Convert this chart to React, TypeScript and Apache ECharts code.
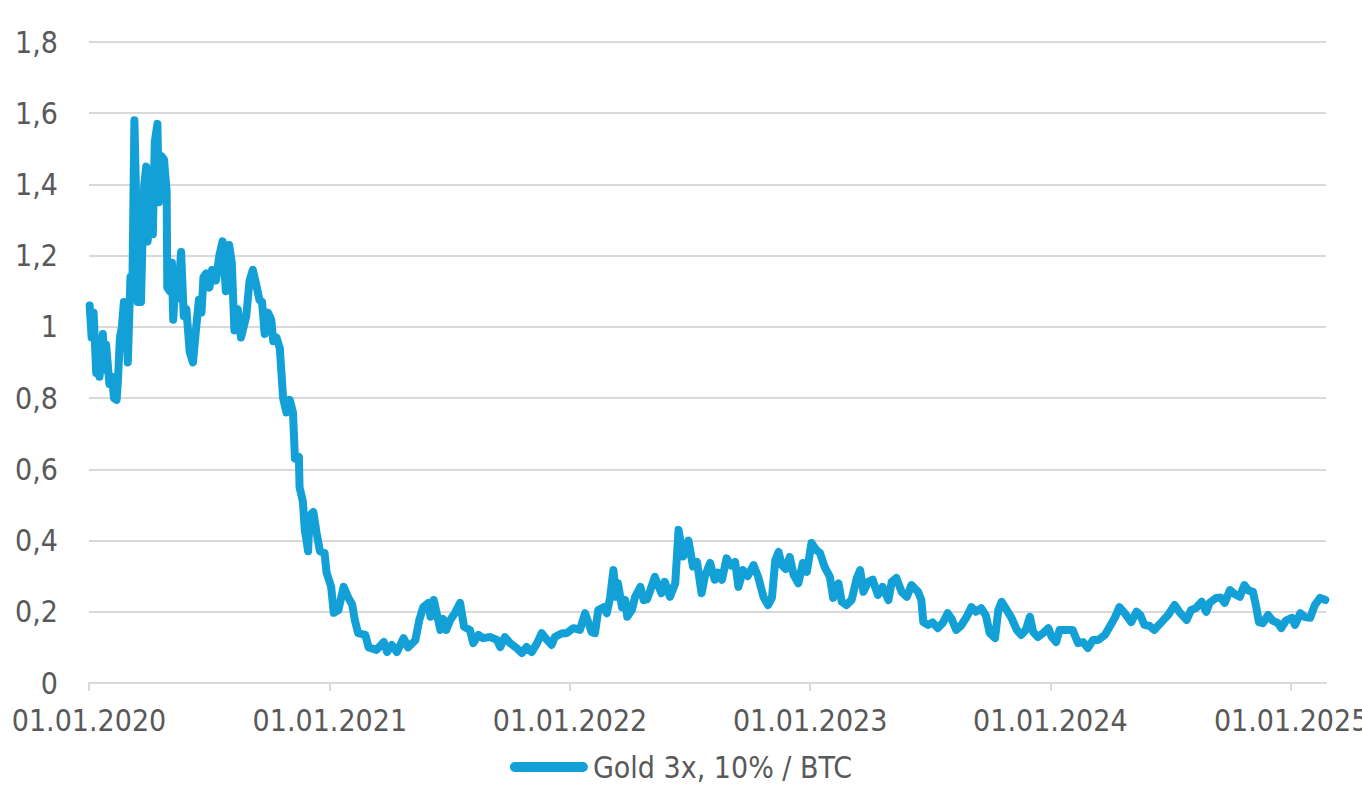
import React, { useEffect, useRef } from "react";
import * as echarts from "echarts";

const seriesName = "Gold 3x, 10% / BTC";

const dates: string[] = [
  "2020-01-02","2020-01-05","2020-01-08","2020-01-12","2020-01-15","2020-01-17","2020-01-22","2020-01-25","2020-01-27","2020-02-01",
  "2020-02-05","2020-02-08","2020-02-12","2020-02-14","2020-02-17","2020-02-20","2020-02-23","2020-02-26","2020-02-29","2020-03-02",
  "2020-03-04","2020-03-07","2020-03-10","2020-03-13","2020-03-15","2020-03-18","2020-03-20","2020-03-23","2020-03-25","2020-03-28",
  "2020-03-30","2020-04-03","2020-04-07","2020-04-10","2020-04-14","2020-04-16","2020-04-20","2020-04-24","2020-04-28","2020-04-29",
  "2020-05-03","2020-05-06","2020-05-08","2020-05-12","2020-05-15","2020-05-20","2020-05-24","2020-05-28","2020-06-02","2020-06-07",
  "2020-06-12","2020-06-16","2020-06-20","2020-06-23","2020-06-27","2020-07-02","2020-07-06","2020-07-12","2020-07-17","2020-07-22",
  "2020-07-27","2020-08-01","2020-08-05","2020-08-09","2020-08-14","2020-08-19","2020-08-27","2020-09-01","2020-09-06","2020-09-11",
  "2020-09-16","2020-09-20","2020-09-24","2020-09-29","2020-10-04","2020-10-07","2020-10-12","2020-10-17","2020-10-22","2020-10-27",
  "2020-11-01","2020-11-06","2020-11-09","2020-11-15","2020-11-16","2020-11-21","2020-11-24","2020-11-29","2020-12-01","2020-12-07",
  "2020-12-12","2020-12-17","2020-12-24","2020-12-27","2021-01-03",
  "2021-01-07","2021-01-14","2021-01-22","2021-01-29","2021-02-04","2021-02-08","2021-02-13","2021-02-24","2021-03-01","2021-03-13",
  "2021-03-24","2021-03-29","2021-04-05","2021-04-13","2021-04-23","2021-04-30","2021-05-11","2021-05-17","2021-05-23","2021-05-31",
  "2021-06-03","2021-06-08","2021-06-18","2021-06-22","2021-06-27","2021-07-03","2021-07-10","2021-07-18","2021-07-24","2021-08-02",
  "2021-08-07","2021-08-15","2021-08-22","2021-09-02","2021-09-12","2021-09-17","2021-09-24","2021-10-02","2021-10-12","2021-10-20",
  "2021-10-27","2021-11-04","2021-11-12","2021-11-19","2021-11-27","2021-12-04","2021-12-09","2021-12-20","2021-12-27",
  "2022-01-06","2022-01-16","2022-01-24","2022-02-03","2022-02-08","2022-02-13","2022-02-21","2022-02-26","2022-03-03","2022-03-08",
  "2022-03-12","2022-03-15","2022-03-21","2022-03-26","2022-03-29","2022-04-05","2022-04-10","2022-04-18","2022-04-23","2022-04-28",
  "2022-05-03","2022-05-10","2022-05-15","2022-05-20","2022-05-25","2022-06-02","2022-06-10","2022-06-15","2022-06-22","2022-06-30",
  "2022-07-07","2022-07-13","2022-07-20","2022-07-25","2022-08-02","2022-08-09","2022-08-14","2022-08-20","2022-08-27","2022-09-03",
  "2022-09-09","2022-09-14","2022-09-21","2022-09-28","2022-10-07","2022-10-14","2022-10-22","2022-10-29","2022-11-04","2022-11-09",
  "2022-11-14","2022-11-19","2022-11-25","2022-12-01","2022-12-07","2022-12-14","2022-12-21","2022-12-27",
  "2023-01-03","2023-01-10","2023-01-16","2023-01-23","2023-01-31","2023-02-05","2023-02-13","2023-02-18","2023-02-25","2023-03-05",
  "2023-03-13","2023-03-18","2023-03-23","2023-03-30","2023-04-06","2023-04-14","2023-04-21","2023-04-30","2023-05-05","2023-05-12",
  "2023-05-20","2023-05-28","2023-06-04","2023-06-14","2023-06-19","2023-06-22","2023-06-29","2023-07-06","2023-07-14","2023-07-22",
  "2023-07-29","2023-08-04","2023-08-11","2023-08-18","2023-08-27","2023-09-03","2023-09-10","2023-09-18","2023-09-25","2023-10-01",
  "2023-10-09","2023-10-14","2023-10-19","2023-10-25","2023-11-03","2023-11-11","2023-11-18","2023-11-25","2023-12-01","2023-12-06",
  "2023-12-13","2023-12-21","2023-12-29",
  "2024-01-03","2024-01-10","2024-01-15","2024-01-25","2024-02-04","2024-02-12","2024-02-20","2024-02-27","2024-03-06","2024-03-14",
  "2024-03-24","2024-03-31","2024-04-08","2024-04-15","2024-04-23","2024-05-03","2024-05-11","2024-05-17","2024-05-23","2024-05-31",
  "2024-06-07","2024-06-18","2024-06-28","2024-07-08","2024-07-15","2024-07-26","2024-08-02","2024-08-09","2024-08-18","2024-08-25",
  "2024-08-30","2024-09-09","2024-09-16","2024-09-22","2024-09-30","2024-10-07","2024-10-15","2024-10-22","2024-10-28","2024-11-04",
  "2024-11-09","2024-11-13","2024-11-19","2024-11-27","2024-12-04","2024-12-12","2024-12-17","2024-12-24",
  "2025-01-02","2025-01-07","2025-01-15","2025-01-22","2025-01-30","2025-02-06","2025-02-14","2025-02-22",
];

const values: number[] = [
  1.06,0.97,1.04,0.87,0.96,0.86,0.98,0.88,0.95,0.84,
  0.86,0.80,0.795,0.85,0.97,1.0,1.07,1.05,0.90,1.02,
  1.14,1.12,1.58,1.33,1.07,1.28,1.07,1.30,1.40,1.45,
  1.24,1.30,1.26,1.52,1.57,1.35,1.48,1.47,1.38,1.11,
  1.10,1.18,1.02,1.15,1.08,1.21,1.03,1.05,0.93,0.90,
  1.0,1.076,1.04,1.14,1.15,1.11,1.16,1.13,1.20,1.24,
  1.10,1.23,1.18,0.99,1.05,0.97,1.03,1.13,1.16,1.12,
  1.076,1.07,0.98,1.04,1.02,0.96,0.97,0.94,0.80,0.76,
  0.795,0.76,0.63,0.635,0.55,0.51,0.43,0.37,0.47,0.48,
  0.42,0.37,0.365,0.31,0.27,
  0.197,0.205,0.27,0.24,0.22,0.177,0.14,0.135,0.10,0.093,
  0.115,0.087,0.107,0.087,0.126,0.10,0.12,0.177,0.213,0.225,
  0.186,0.233,0.149,0.18,0.149,0.177,0.196,0.225,0.158,0.149,
  0.112,0.135,0.126,0.129,0.121,0.101,0.129,0.112,0.098,0.084,
  0.101,0.087,0.112,0.14,0.121,0.107,0.129,0.14,0.14,
  0.154,0.149,0.196,0.143,0.14,0.205,0.213,0.196,0.24,0.317,
  0.242,0.28,0.213,0.233,0.186,0.205,0.242,0.27,0.233,0.235,
  0.26,0.298,0.275,0.252,0.284,0.242,0.28,0.43,0.355,0.40,
  0.327,0.34,0.252,0.30,0.337,0.29,0.31,0.29,0.35,0.33,
  0.34,0.27,0.317,0.30,0.331,0.298,0.242,0.219,0.24,0.345,
  0.368,0.331,0.32,0.354,0.303,0.28,0.337,0.312,
  0.393,0.374,0.365,0.326,0.298,0.239,0.28,0.228,0.219,0.233,
  0.295,0.317,0.256,0.284,0.29,0.247,0.27,0.233,0.284,0.295,
  0.256,0.242,0.275,0.256,0.233,0.171,0.163,0.17,0.154,0.17,
  0.196,0.18,0.149,0.16,0.186,0.213,0.20,0.21,0.19,0.14,
  0.126,0.205,0.228,0.21,0.183,0.149,0.135,0.15,0.186,0.143,
  0.129,0.14,0.154,
  0.13,0.115,0.149,0.149,0.149,0.112,0.115,0.098,0.121,0.121,
  0.135,0.157,0.183,0.213,0.196,0.171,0.2,0.19,0.163,0.16,
  0.149,0.171,0.191,0.219,0.20,0.177,0.205,0.21,0.228,0.2,
  0.225,0.239,0.24,0.225,0.261,0.25,0.242,0.275,0.26,0.256,
  0.213,0.171,0.168,0.191,0.175,0.168,0.154,0.175,
  0.183,0.163,0.196,0.185,0.183,0.219,0.239,0.233,
];

const yearTicks: string[] = ["2020-01-01", "2021-01-01", "2022-01-01", "2023-01-01", "2024-01-01", "2025-01-01"];
const xMin = "2020-01-01";
const xMax = "2025-02-23";
const yMin = 0;
const yMax = 1.8;
const yStep = 0.2;

const parseDate = (s: string) => {
  const [y, m, d] = s.split("-").map(Number);
  return new Date(y, m - 1, d).getTime();
};

const pad = (n: number) => (n < 10 ? "0" + n : String(n));
const fmtDate = (v: number) => {
  const d = new Date(v);
  return pad(d.getDate()) + "." + pad(d.getMonth() + 1) + "." + d.getFullYear();
};

export default function App() {
  const ref = useRef<HTMLDivElement>(null);
  useEffect(() => {
    if (!ref.current) return;
    const chart = echarts.init(ref.current, undefined, { renderer: "svg" });
    const font = "'Liberation Sans Narrow', 'DejaVu Sans Condensed', 'Liberation Sans', Arial, sans-serif";
    const tickVals = yearTicks.map(parseDate);
    chart.setOption({
      animation: false,
      backgroundColor: "#ffffff",
      grid: { left: 89, right: 36, top: 42, bottom: 114, containLabel: false, outerBoundsMode: "none" },
      xAxis: {
        type: "value",
        min: parseDate(xMin),
        max: parseDate(xMax),
        axisLine: { show: true, lineStyle: { color: "#d9d9d9", width: 2 } },
        axisTick: { show: true, length: 8, customValues: tickVals, lineStyle: { color: "#d9d9d9", width: 2 } },
        splitLine: { show: false },
        axisLabel: {
          customValues: tickVals,
          margin: 22,
          color: "#595959",
          fontSize: 30,
          fontFamily: font,
          formatter: (v: number) => fmtDate(v),
        },
      },
      yAxis: {
        type: "value",
        min: yMin,
        max: yMax,
        interval: yStep,
        axisLine: { show: false },
        axisTick: { show: false },
        splitLine: { lineStyle: { color: "#d9d9d9", width: 2 } },
        axisLabel: {
          margin: 31,
          color: "#595959",
          fontSize: 30,
          fontFamily: font,
          formatter: (v: number) => String(Math.round(v * 10) / 10).replace(".", ","),
        },
      },
      legend: {
        show: true,
        bottom: 10,
        left: "center",
        itemWidth: 78,
        itemHeight: 10,
        itemGap: 10,
        icon: "path://M5,0 H73 A5,5 0 0 1 73,10 H5 A5,5 0 0 1 5,0 Z",
        textStyle: { color: "#595959", fontSize: 30, fontFamily: font },
        data: [{ name: seriesName, itemStyle: { color: "#12A0D7" } }],
      },
      series: [
        {
          name: seriesName,
          type: "line",
          showSymbol: false,
          symbol: "none",
          data: dates.map((d, i) => [parseDate(d), values[i]]),
          lineStyle: { color: "#12A0D7", width: 8, join: "round", cap: "round" },
          itemStyle: { color: "#12A0D7" },
        },
      ],
    });
    return () => chart.dispose();
  }, []);
  return <div ref={ref} style={{ position: "fixed", left: 0, top: 0, width: 1362, height: 797 }} />;
}
